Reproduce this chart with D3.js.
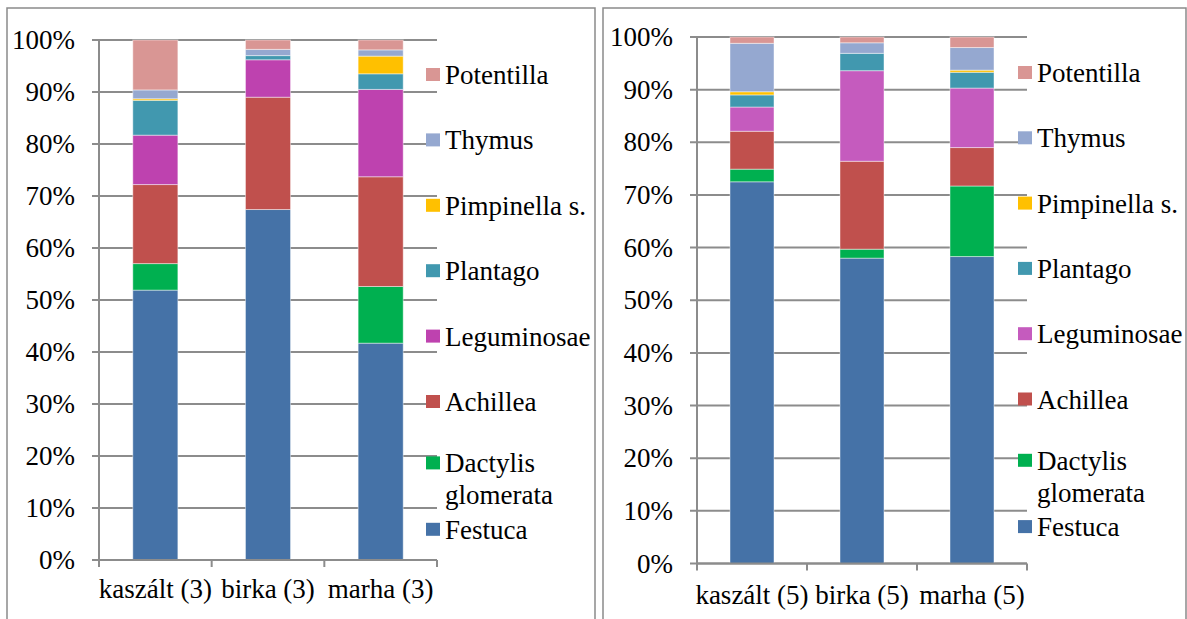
<!DOCTYPE html>
<html>
<head>
<meta charset="utf-8">
<script src="https://cdn.jsdelivr.net/npm/d3@7/dist/d3.min.js"></script>
<style>
  @font-face { font-family: "ChartSerif"; src: local("Liberation Serif"), local("LiberationSerif"), local("Liberation Serif Regular"), local("Times New Roman"), local("Tinos"); }
  html, body { margin: 0; padding: 0; background: #fff; }
  svg { display: block; }
</style>
</head>
<body>
<svg id="chart" width="1187" height="619"></svg>
<script>
// ---- data ----
const species = ["Festuca", "Dactylis glomerata", "Achillea", "Leguminosae", "Plantago", "Pimpinella s.", "Thymus", "Potentilla"];
const categoriesA = ["kaszált (3)", "birka (3)", "marha (3)"];
const categoriesB = ["kaszált (5)", "birka (5)", "marha (5)"];
const yTickValues = [0, 0.1, 0.2, 0.3, 0.4, 0.5, 0.6, 0.7, 0.8, 0.9, 1.0];

// chart A (3)
const festucaA     = [51.9, 67.4, 41.7];
const dactylisA    = [5.1, 0.0, 10.9];
const achilleaA    = [15.2, 21.6, 21.1];
const leguminosaeA = [9.5, 7.2, 16.8];
const plantagoA    = [6.7, 0.8, 3.0];
const pimpinellaA  = [0.3, 0.0, 3.4];
const thymusA      = [1.7, 1.2, 1.2];
const potentillaA  = [9.6, 1.8, 1.9];

// chart B (5)
const festucaB     = [72.5, 58.0, 58.3];
const dactylisB    = [2.4, 1.7, 13.4];
const achilleaB    = [7.2, 16.7, 7.3];
const leguminosaeB = [4.6, 17.2, 11.3];
const plantagoB    = [2.3, 3.3, 3.0];
const pimpinellaB  = [0.6, 0.0, 0.4];
const thymusB      = [9.2, 2.0, 4.3];
const potentillaB  = [1.2, 1.1, 2.0];

const colorsA = ["#4572A7", "#00B050", "#C0504D", "#BE42AF", "#4198AF", "#FFC000", "#95A8D0", "#D99694"];
const colorsB = ["#4572A7", "#00B050", "#C0504D", "#C55BBE", "#4198AF", "#FFC000", "#95A8D0", "#D99694"];

function buildRows(categories, series) {
  return categories.map((c, i) => {
    const row = { cat: c };
    species.forEach((s, j) => { row[s] = series[j][i]; });
    return row;
  });
}

const svg = d3.select("#chart");

function label(parent, x, y, str, size, anchor) {
  return parent.append("text")
    .attr("x", x).attr("y", y)
    .attr("text-anchor", anchor)
    .attr("font-size", size)
    .style("font-family", '"Liberation Serif", "ChartSerif", "Times New Roman", Tinos, serif')
    .text(str);
}

function drawPanel(cfg) {
  const g = svg.append("g");
  g.append("rect")
    .attr("x", cfg.box[0]).attr("y", cfg.box[1])
    .attr("width", cfg.box[2]).attr("height", cfg.box[3])
    .attr("fill", "none").attr("stroke", "#8a8a8a").attr("stroke-width", 1.5);

  const x = d3.scaleBand().domain(cfg.categories)
    .range([cfg.x0, cfg.x1]).paddingInner(0.6).paddingOuter(0.3);
  const y = d3.scaleLinear().domain([0, 1]).range([cfg.yBot, cfg.yTop]);
  const fmt = d3.format(".0%");

  const grid = g.append("g");
  yTickValues.forEach(v => {
    grid.append("line")
      .attr("x1", cfg.x0 - 7).attr("x2", cfg.x1)
      .attr("y1", y(v)).attr("y2", y(v))
      .attr("stroke", "#8c8c8c").attr("stroke-width", 2);
    label(grid, cfg.x0 - 24, y(v) + 9, fmt(v), 27, "end");
  });

  const rows = buildRows(cfg.categories, cfg.series);
  const stack = d3.stack().keys(species).offset(d3.stackOffsetExpand);
  const layers = stack(rows);
  const color = d3.scaleOrdinal().domain(species).range(cfg.colors);
  g.append("g").selectAll("g").data(layers).join("g")
    .attr("fill", d => color(d.key))
    .selectAll("rect").data(d => d).join("rect")
    .attr("x", d => x(d.data.cat))
    .attr("width", x.bandwidth())
    .attr("y", d => y(d[1]))
    .attr("height", d => Math.max(0, y(d[0]) - y(d[1])))
    .attr("stroke", "rgba(255,255,255,0.45)").attr("stroke-width", 1);

  g.append("line").attr("x1", cfg.x0).attr("x2", cfg.x0)
    .attr("y1", cfg.yTop).attr("y2", cfg.yBot)
    .attr("stroke", "#8c8c8c").attr("stroke-width", 2);

  g.append("line").attr("x1", cfg.x0).attr("x2", cfg.x1)
    .attr("y1", cfg.yBot).attr("y2", cfg.yBot)
    .attr("stroke", "#8c8c8c").attr("stroke-width", 2);
  const bounds = d3.range(cfg.categories.length + 1).map(i => cfg.x0 + i * x.step());
  g.append("g").selectAll("line").data(bounds).join("line")
    .attr("x1", d => d).attr("x2", d => d)
    .attr("y1", cfg.yBot).attr("y2", cfg.yBot + 7)
    .attr("stroke", "#8c8c8c").attr("stroke-width", 2);

  const xl = g.append("g");
  cfg.categories.forEach(c => {
    label(xl, x(c) + x.bandwidth() / 2, cfg.yBot + cfg.labelOffset, c, 27, "middle");
  });

  const legendItems = species.slice().reverse();
  const leg = g.append("g");
  legendItems.forEach((name, i) => {
    let base = cfg.legTop + i * cfg.legStep;
    if (name === "Dactylis glomerata") base -= 4;
    if (name === "Festuca") base -= 3;
    leg.append("rect")
      .attr("x", cfg.legX).attr("y", base - 16)
      .attr("width", 14).attr("height", 13)
      .attr("fill", color(name));
    if (name === "Dactylis glomerata") {
      label(leg, cfg.legX + 19, base, "Dactylis", 27, "start");
      label(leg, cfg.legX + 19, base + 32, "glomerata", 27, "start");
    } else {
      label(leg, cfg.legX + 19, base, name, 27, "start");
    }
  });
}

drawPanel({
  box: [7, 8, 588, 640],
  categories: categoriesA,
  series: [festucaA, dactylisA, achilleaA, leguminosaeA, plantagoA, pimpinellaA, thymusA, potentillaA],
  colors: colorsA,
  x0: 99, x1: 437, yTop: 40, yBot: 560,
  labelOffset: 38,
  legX: 426, legTop: 84, legStep: 65.4
});

drawPanel({
  box: [603, 8, 583, 640],
  categories: categoriesB,
  series: [festucaB, dactylisB, achilleaB, leguminosaeB, plantagoB, pimpinellaB, thymusB, potentillaB],
  colors: colorsB,
  x0: 697, x1: 1027, yTop: 37, yBot: 563.5,
  labelOffset: 40,
  legX: 1018, legTop: 82, legStep: 65.3
});
</script>
</body>
</html>
